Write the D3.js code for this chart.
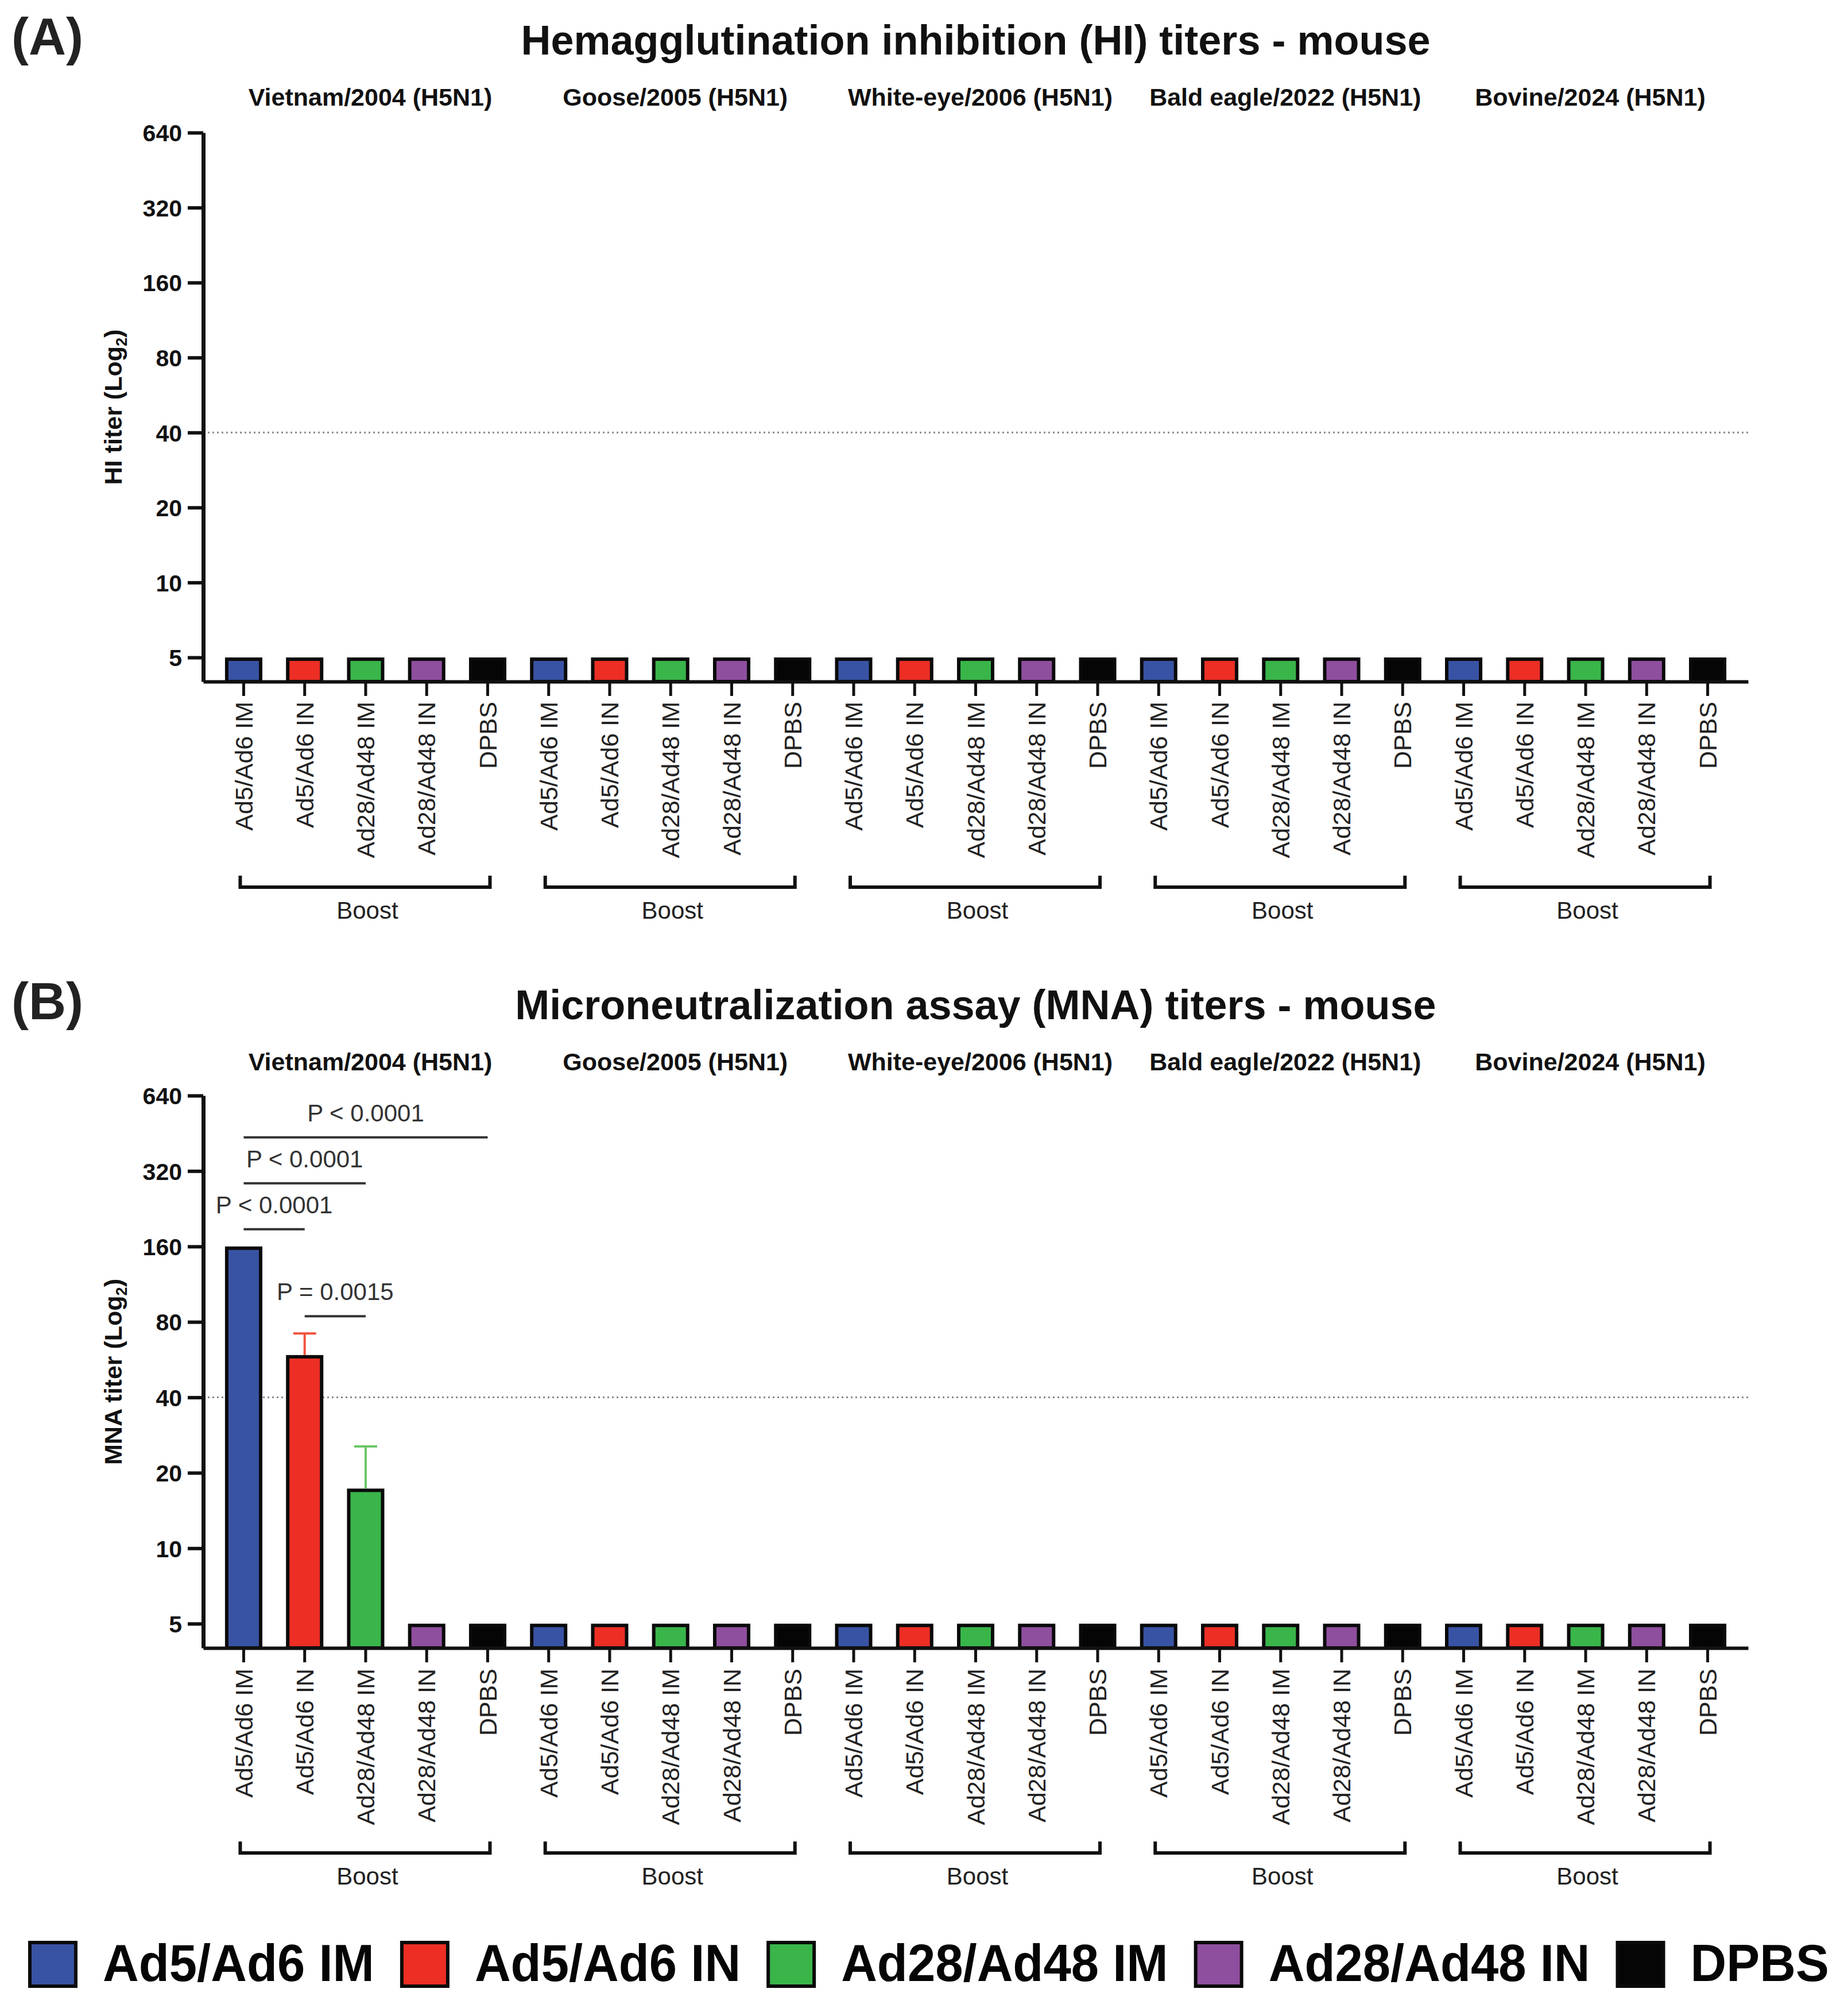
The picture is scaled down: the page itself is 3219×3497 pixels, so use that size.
<!DOCTYPE html>
<html><head><meta charset="utf-8">
<script src="https://cdn.jsdelivr.net/npm/d3@7"></script>
<style>
body{margin:0;background:#fff}
svg{display:block}
text{font-family:"Liberation Sans",Arial,Helvetica,sans-serif}
</style>
</head><body>
<svg id="chart" width="3219" height="3497"></svg>
<script>
// ---------------- DATA ----------------
const strains = ["Vietnam/2004 (H5N1)", "Goose/2005 (H5N1)", "White-eye/2006 (H5N1)", "Bald eagle/2022 (H5N1)", "Bovine/2024 (H5N1)"];
const groups = ["Ad5/Ad6 IM", "Ad5/Ad6 IN", "Ad28/Ad48 IM", "Ad28/Ad48 IN", "DPBS"];
const groupColors = ["#3953a4", "#ec2e24", "#39b54a", "#8f4f9f", "#050505"];
const errorColors = ["#3953a4", "#f0533f", "#6cc567", "#8f4f9f", "#050505"];
const yTickValues = [5, 10, 20, 40, 80, 160, 320, 640];
const yDomain = [4, 640];
const referenceLevel = 40;
const boostLabel = "Boost";

// HI titers (geometric mean) per strain, per group
const hiTiters = [
  [5, 5, 5, 5, 5],
  [5, 5, 5, 5, 5],
  [5, 5, 5, 5, 5],
  [5, 5, 5, 5, 5],
  [5, 5, 5, 5, 5]
];
const hiErrorUpper = [
  [null, null, null, null, null],
  [null, null, null, null, null],
  [null, null, null, null, null],
  [null, null, null, null, null],
  [null, null, null, null, null]
];
// MNA titers (geometric mean) per strain, per group
const mnaTiters = [
  [160, 59, 17.3, 5, 5],
  [5, 5, 5, 5, 5],
  [5, 5, 5, 5, 5],
  [5, 5, 5, 5, 5],
  [5, 5, 5, 5, 5]
];
const mnaErrorUpper = [
  [null, 72, 25.5, null, null],
  [null, null, null, null, null],
  [null, null, null, null, null],
  [null, null, null, null, null],
  [null, null, null, null, null]
];
const hiComparisons = [];
const mnaComparisons = [
  {strain: 0, from: 0, to: 1, label: "P < 0.0001"},
  {strain: 0, from: 0, to: 2, label: "P < 0.0001"},
  {strain: 0, from: 0, to: 4, label: "P < 0.0001"},
  {strain: 0, from: 1, to: 2, label: "P = 0.0015"}
];

// ---------------- DRAW ----------------
const svg = d3.select("#chart");
const FONT = '"Liberation Sans",Arial,Helvetica,sans-serif';
const xLeft = 354, xRight = 3045;

const keys = [];
strains.forEach((s, si) => groups.forEach((g, gi) => keys.push(si + "|" + gi)));
const x = d3.scaleBand().domain(keys).range([xLeft, xRight]).paddingInner(0.388).paddingOuter(0.357);
const bw = x.bandwidth();
const cx = (si, gi) => x(si + "|" + gi) + bw / 2;

function drawPanel(cfg) {
  const g = svg.append("g");
  const y = d3.scaleLog().base(2).domain(yDomain).range([cfg.yBottom, cfg.yTop]);

  // panel letter
  g.append("text").attr("x", 20).attr("y", cfg.titleY).attr("font-size", 90).attr("font-weight", "bold")
    .attr("fill", "#222").text(cfg.letter);
  // title
  g.append("text").attr("x", (xLeft + xRight) / 2).attr("y", cfg.titleY).attr("text-anchor", "middle")
    .attr("font-size", 72).attr("font-weight", "bold").attr("fill", "#111").text(cfg.title);
  // strain subtitles
  strains.forEach((s, si) => {
    const c = (cx(si, 0) + cx(si, groups.length - 1)) / 2 + 8;
    g.append("text").attr("x", c).attr("y", cfg.subY).attr("text-anchor", "middle")
      .attr("font-size", 43).attr("font-weight", "bold").attr("fill", "#111").text(s);
  });

  // reference dotted line
  g.append("line").attr("x1", xLeft).attr("x2", xRight).attr("y1", y(referenceLevel)).attr("y2", y(referenceLevel))
    .attr("stroke", "#8a8a8a").attr("stroke-width", 3).attr("stroke-dasharray", "3,5");

  // bars
  const bars = [];
  cfg.values.forEach((row, si) => row.forEach((v, gi) => bars.push({si, gi, v, e: cfg.errors[si][gi]})));
  const sw = 6;
  g.selectAll("rect.bar").data(bars).join("rect").attr("class", "bar")
    .attr("x", d => x(d.si + "|" + d.gi) + sw / 2)
    .attr("width", bw - sw)
    .attr("y", d => y(d.v) + sw / 2)
    .attr("height", d => y(yDomain[0]) - y(d.v) - sw / 2)
    .attr("fill", d => groupColors[d.gi])
    .attr("stroke", "#0a0a0a").attr("stroke-width", sw);

  // error bars (upper only)
  const errs = bars.filter(d => d.e != null);
  const eg = g.selectAll("g.err").data(errs).join("g").attr("class", "err");
  eg.append("line").attr("x1", d => cx(d.si, d.gi)).attr("x2", d => cx(d.si, d.gi))
    .attr("y1", d => y(d.v)).attr("y2", d => y(d.e)).attr("stroke", d => errorColors[d.gi]).attr("stroke-width", 4);
  eg.append("line").attr("x1", d => cx(d.si, d.gi) - 20).attr("x2", d => cx(d.si, d.gi) + 20)
    .attr("y1", d => y(d.e)).attr("y2", d => y(d.e)).attr("stroke", d => errorColors[d.gi]).attr("stroke-width", 4);

  // axes
  const yAxis = d3.axisLeft(y).tickValues(yTickValues).tickFormat(d3.format("d")).tickSize(27).tickSizeOuter(0).tickPadding(10);
  const ya = g.append("g").attr("transform", `translate(${xLeft},0)`).call(yAxis);
  ya.select(".domain").attr("stroke", "#111").attr("stroke-width", 7);
  ya.selectAll(".tick line").attr("stroke", "#111").attr("stroke-width", 6);
  ya.selectAll(".tick text").attr("font-size", 41).attr("font-weight", "bold").attr("fill", "#111")
    .attr("font-family", FONT).attr("dy", "0.36em");

  const xAxis = d3.axisBottom(x).tickFormat(k => groups[+k.split("|")[1]]).tickSize(25).tickSizeOuter(0);
  const xa = g.append("g").attr("transform", `translate(0,${cfg.yBottom})`).call(xAxis);
  xa.select(".domain").attr("stroke", "#111").attr("stroke-width", 6);
  xa.selectAll(".tick line").attr("stroke", "#111").attr("stroke-width", 5);
  xa.selectAll(".tick text").attr("font-size", 43).attr("fill", "#222").attr("font-family", FONT)
    .attr("transform", "rotate(-90)").attr("text-anchor", "end")
    .attr("x", -(cfg.labelTop - cfg.yBottom)).attr("y", 0).attr("dy", "0.35em");

  // y axis title
  const yt = g.append("text").attr("transform", `translate(212,${(cfg.yTop + cfg.yBottom) / 2}) rotate(-90)`)
    .attr("text-anchor", "middle").attr("font-size", 43).attr("font-weight", "bold").attr("fill", "#111");
  yt.append("tspan").text(cfg.yLabel + " (Log");
  yt.append("tspan").attr("font-size", 27).attr("dy", 9).text("2");
  yt.append("tspan").attr("dy", -9).text(")");

  // Boost brackets
  strains.forEach((s, si) => {
    const x1 = cx(si, 0) - 6, x2 = cx(si, groups.length - 1) + 4;
    g.append("path").attr("d", `M${x1},${cfg.bracketY - 20}V${cfg.bracketY}H${x2}V${cfg.bracketY - 20}`)
      .attr("fill", "none").attr("stroke", "#111").attr("stroke-width", 6);
    g.append("text").attr("x", (x1 + x2) / 2 + 4).attr("y", cfg.boostY).attr("text-anchor", "middle")
      .attr("font-size", 42).attr("fill", "#222").text(boostLabel);
  });

  // significance brackets
  const comps = cfg.comparisons.slice().sort((a, b) => (a.to - a.from) - (b.to - b.from) || a.from - b.from);
  const placed = [];
  comps.forEach(c => {
    let top = Infinity;
    for (let gi = c.from; gi <= c.to; gi++) {
      top = Math.min(top, y(cfg.values[c.strain][gi]));
      const e = cfg.errors[c.strain][gi];
      if (e != null) top = Math.min(top, y(e));
    }
    let ly = top - 30;
    placed.forEach(p => {
      if (p.strain === c.strain && c.from < p.to && c.to > p.from) ly = Math.min(ly, p.ly - 80);
    });
    placed.push({...c, ly});
    const x1 = cx(c.strain, c.from), x2 = cx(c.strain, c.to);
    g.append("line").attr("x1", x1).attr("x2", x2).attr("y1", ly).attr("y2", ly)
      .attr("stroke", "#333").attr("stroke-width", 4);
    g.append("text").attr("x", (x1 + x2) / 2).attr("y", ly - 28).attr("text-anchor", "middle")
      .attr("font-size", 42).attr("fill", "#333").text(c.label);
  });
}

drawPanel({
  letter: "(A)", title: "Hemagglutination inhibition (HI) titers - mouse", yLabel: "HI titer",
  titleY: 95, subY: 184, yTop: 231, yBottom: 1187, labelTop: 1222, bracketY: 1545, boostY: 1600,
  values: hiTiters, errors: hiErrorUpper, comparisons: hiComparisons
});
drawPanel({
  letter: "(B)", title: "Microneutralization assay (MNA) titers - mouse", yLabel: "MNA titer",
  titleY: 1775, subY: 1864, yTop: 1908, yBottom: 2870, labelTop: 2906, bracketY: 3227, boostY: 3282,
  values: mnaTiters, errors: mnaErrorUpper, comparisons: mnaComparisons
});

// legend
const lg = svg.append("g");
let lx = 49;
const condenseK = 0.965;
groups.forEach((gname, gi) => {
  lg.append("rect").attr("x", lx + 3).attr("y", 3383).attr("width", 80).attr("height", 76)
    .attr("fill", groupColors[gi]).attr("stroke", "#0a0a0a").attr("stroke-width", 6);
  const t = lg.append("text").attr("x", lx + 130).attr("y", 3450).attr("font-size", 90).attr("font-weight", "bold")
    .attr("fill", "#050505").text(gname);
  const natural = t.node().getComputedTextLength();
  const w = natural * condenseK;
  t.attr("textLength", w).attr("lengthAdjust", "spacingAndGlyphs");
  lx = lx + 130 + w + 45;
});
</script>
</body></html>
